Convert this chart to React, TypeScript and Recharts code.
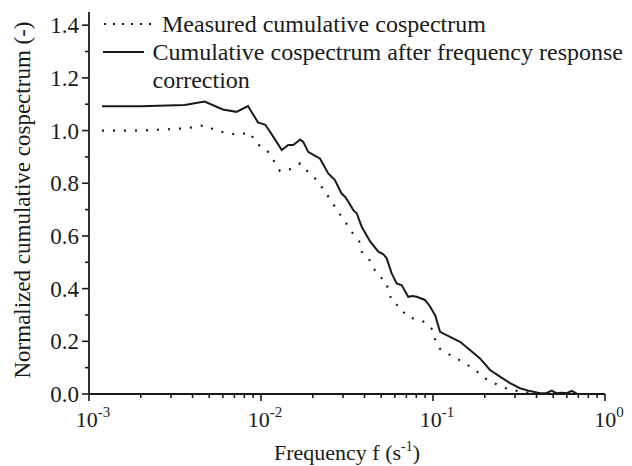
import { LineChart, Line, XAxis, YAxis, Legend } from "recharts";

// frequency (s^-1) and normalized cumulative cospectrum
const measuredFreq = [
  0.00119, 0.002, 0.0036, 0.0047, 0.0055, 0.0065, 0.0075, 0.0086, 0.0094, 0.0108,
  0.0118, 0.0129, 0.0146, 0.0169, 0.0188, 0.0211, 0.0232, 0.0254, 0.0278, 0.0305,
  0.0334, 0.0372, 0.0385, 0.0424, 0.045, 0.0487, 0.0533, 0.055, 0.0583, 0.0649,
  0.0697, 0.0779, 0.0879, 0.0983, 0.1028, 0.1089, 0.1227, 0.1374, 0.1535, 0.173,
  0.186, 0.205, 0.227, 0.256, 0.287, 0.335, 0.381, 0.42,
];
const measuredValue = [
  1.0, 1.0, 1.008, 1.02, 1.0, 0.989, 0.985, 0.993, 0.951, 0.926,
  0.888, 0.846, 0.852, 0.875, 0.843, 0.812, 0.774, 0.736, 0.696, 0.66,
  0.618, 0.58, 0.54, 0.512, 0.479, 0.445, 0.43, 0.391, 0.346, 0.331,
  0.296, 0.285, 0.275, 0.247, 0.208, 0.173, 0.152, 0.135, 0.116, 0.095,
  0.078, 0.056, 0.041, 0.025, 0.015, 0.009, 0.003, 0.0,
];

const correctedFreq = [
  0.00119, 0.002, 0.0036, 0.0047, 0.006, 0.0072, 0.0084, 0.0096, 0.0106, 0.0118,
  0.0132, 0.0144, 0.0154, 0.0169, 0.0176, 0.0188, 0.0205, 0.022, 0.0246, 0.0269,
  0.0294, 0.0308, 0.0322, 0.0344, 0.036, 0.0385, 0.043, 0.0481, 0.0515, 0.0538,
  0.0575, 0.0615, 0.0658, 0.0718, 0.076, 0.0804, 0.0898, 0.0955, 0.1005, 0.1028,
  0.1099, 0.1256, 0.1436, 0.164, 0.1877, 0.2145, 0.2453, 0.2805, 0.3206, 0.3664,
  0.419, 0.455, 0.49, 0.52, 0.56, 0.6, 0.64, 0.684,
];
const correctedValue = [
  1.092, 1.092, 1.097, 1.11, 1.08, 1.071, 1.093, 1.031, 1.022, 0.976,
  0.926, 0.945, 0.945, 0.966, 0.957, 0.919, 0.905, 0.894, 0.837, 0.812,
  0.761, 0.749, 0.73, 0.698, 0.686, 0.635, 0.58, 0.54, 0.53, 0.515,
  0.458, 0.42, 0.413, 0.369, 0.372, 0.369, 0.357, 0.335, 0.31, 0.3,
  0.236, 0.217, 0.198, 0.167, 0.135, 0.091, 0.066, 0.041, 0.022, 0.011,
  0.003, 0.003, 0.013, 0.003, 0.005, 0.003, 0.012, 0.002,
];

const xMajor = [0.001, 0.01, 0.1, 1];
const xExp = ["-3", "-2", "-1", "0"];
const xMinor = [
  0.002, 0.003, 0.004, 0.005, 0.006, 0.007, 0.008, 0.009,
  0.02, 0.03, 0.04, 0.05, 0.06, 0.07, 0.08, 0.09,
  0.2, 0.3, 0.4, 0.5, 0.6, 0.7, 0.8, 0.9,
];
const yMajor = [0, 0.2, 0.4, 0.6, 0.8, 1.0, 1.2, 1.4];
const yMinor = [0.1, 0.3, 0.5, 0.7, 0.9, 1.1, 1.3];

const measured = measuredFreq.map((f, i) => ({ f, v: measuredValue[i] }));
const corrected = correctedFreq.map((f, i) => ({ f, v: correctedValue[i] }));

const FONT = '"Liberation Serif", "Times New Roman", serif';
const INK = "#1a1a1a";

function XTick(props: any) {
  const { x, y, payload } = props;
  const i = xMajor.indexOf(payload.value);
  const major = i >= 0;
  return (
    <g>
      <line x1={x} x2={x} y1={y} y2={y + (major ? 7 : 4)} stroke={INK} strokeWidth={1.6} />
      {major && (
        <text x={x + 4} y={y + 33} textAnchor="middle" fontFamily={FONT} fontSize={22} fill={INK}>
          10
          <tspan dy={-10} fontSize={15}>
            {xExp[i]}
          </tspan>
        </text>
      )}
    </g>
  );
}

function YTick(props: any) {
  const { x, y, payload } = props;
  const major = yMajor.some((t) => Math.abs(t - payload.value) < 1e-6);
  return (
    <g>
      <line x1={x - (major ? 7 : 4)} x2={x} y1={y} y2={y} stroke={INK} strokeWidth={1.6} />
      {major && (
        <text x={x - 10} y={y} dy="0.35em" textAnchor="end" fontFamily={FONT} fontSize={23} fill={INK}>
          {payload.value.toFixed(1)}
        </text>
      )}
    </g>
  );
}

function LegendBox() {
  return (
    <div style={{ fontFamily: FONT, fontSize: 24, lineHeight: "28px", color: INK, whiteSpace: "nowrap" }}>
      <div style={{ display: "flex", alignItems: "flex-start" }}>
        <svg width={50} height={4} style={{ marginTop: 12 }}>
          <line x1={1} x2={50} y1={2} y2={2} stroke={INK} strokeWidth={2} strokeDasharray="2 7" />
        </svg>
        <span style={{ marginLeft: 9 }}>Measured cumulative cospectrum</span>
      </div>
      <div style={{ display: "flex", alignItems: "flex-start" }}>
        <svg width={50} height={4} style={{ marginTop: 12 }}>
          <line x1={0} x2={50} y1={2} y2={2} stroke={INK} strokeWidth={2} />
        </svg>
        <span style={{ marginLeft: 9 }}>
          Cumulative cospectrum after frequency response
          <br />
          correction
        </span>
      </div>
    </div>
  );
}

export default function App() {
  return (
    <div style={{ position: "absolute", left: 0, top: 0, background: "#fff" }}>
      <LineChart width={632} height={466} margin={{ top: 12, right: 27, left: 0, bottom: 0 }}>
        <XAxis
          type="number"
          dataKey="f"
          scale="log"
          domain={[0.001, 1]}
          allowDataOverflow
          ticks={[...xMajor, ...xMinor]}
          interval={0}
          height={72}
          tickSize={0}
          tickMargin={0}
          tickLine={false}
          tick={<XTick />}
          stroke={INK}
          strokeWidth={1.8}
          label={{
            content: (p: any) => {
              const vb = p.viewBox;
              return (
                <text x={vb.x + vb.width / 2} y={vb.y + 66} textAnchor="middle" fontFamily={FONT} fontSize={22} fill={INK}>
                  Frequency f (s
                  <tspan dy={-9} fontSize={14}>
                    -1
                  </tspan>
                  <tspan dy={9}>)</tspan>
                </text>
              );
            },
          }}
        />
        <YAxis
          type="number"
          dataKey="v"
          domain={[0, 1.45]}
          allowDataOverflow
          ticks={[...yMajor, ...yMinor]}
          interval={0}
          width={89}
          tickSize={0}
          tickMargin={0}
          tickLine={false}
          tick={<YTick />}
          stroke={INK}
          strokeWidth={1.8}
          label={{
            content: (p: any) => {
              const vb = p.viewBox;
              const cx = vb.x + 22;
              const cy = vb.y + vb.height / 2 - 3;
              return (
                <text
                  x={cx}
                  y={cy}
                  dy="0.35em"
                  transform={`rotate(-90 ${cx} ${cy})`}
                  textAnchor="middle"
                  fontFamily={FONT}
                  fontSize={23}
                  fill={INK}
                >
                  Normalized cumulative cospectrum (-)
                </text>
              );
            },
          }}
        />
        <Legend
          layout="horizontal"
          verticalAlign="middle"
          align="center"
          content={() => <LegendBox />}
          wrapperStyle={{ top: 10, left: 103, width: 520, height: 90 }}
        />
        <Line
          data={measured}
          dataKey="v"
          name="Measured cumulative cospectrum"
          type="linear"
          stroke={INK}
          strokeWidth={2.2}
          strokeDasharray="2 9"
          dot={false}
          activeDot={false}
          isAnimationActive={false}
        />
        <Line
          data={corrected}
          dataKey="v"
          name="Cumulative cospectrum after frequency response correction"
          type="linear"
          stroke={INK}
          strokeWidth={2}
          dot={false}
          activeDot={false}
          isAnimationActive={false}
        />
      </LineChart>
    </div>
  );
}
